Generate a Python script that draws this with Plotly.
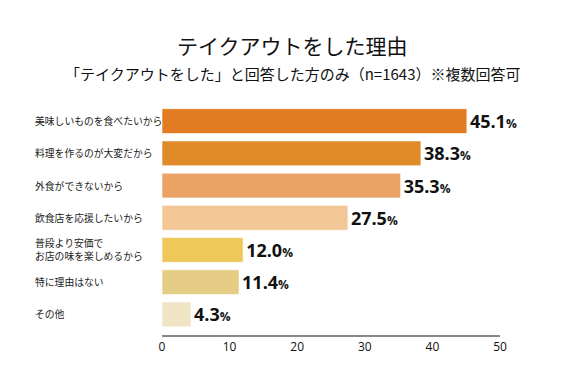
import plotly.graph_objects as go

categories = ["美味しいものを食べたいから", "料理を作るのが大変だから", "外食ができないから",
              "飲食店を応援したいから", "普段より安価で<br>お店の味を楽しめるから",
              "特に理由はない", "その他"]
values = [45.1, 38.3, 35.3, 27.5, 12.0, 11.4, 4.3]
colors = ["#E37B22", "#E08A2A", "#EBA265", "#F2C795", "#EFC85A", "#E5CD85", "#F0E4C5"]
x_ticks = [0, 10, 20, 30, 40, 50]

JP = "Noto Sans CJK JP"
ypos = list(range(len(categories)))

fig = go.Figure(go.Bar(
    x=values, y=ypos, orientation="h",
    marker=dict(color=colors, line=dict(color="rgba(255,255,255,0.6)", width=1)),
    width=0.77,
    text=[f"<b>{v:.1f}</b><span style='font-size:12px'><b>%</b></span>" for v in values],
    textposition="outside",
    textfont=dict(family="Open Sans", size=18, color="#111"),
    cliponaxis=False,
    hoverinfo="skip",
))

for i, c in enumerate(categories):
    fig.add_annotation(x=-0.382, xref="paper", y=i, yref="y", text=c, showarrow=False,
                       xanchor="left", yanchor="middle", align="left",
                       font=dict(family=JP, size=9.8, color="#222"))

fig.add_annotation(x=0.385, xref="paper", y=1.261, yref="paper",
                   text="テイクアウトをした理由", showarrow=False,
                   xanchor="center", yanchor="middle",
                   font=dict(family=JP, size=21, color="#111"))
fig.add_annotation(x=0.385, xref="paper", y=1.135, yref="paper",
                   text="「テイクアウトをした」と回答した方のみ（n=1643）※複数回答可", showarrow=False,
                   xanchor="center", yanchor="middle",
                   font=dict(family=JP, size=15, color="#111"))

fig.update_layout(
    width=585, height=387,
    margin=dict(l=154, r=93, t=97, b=60),
    paper_bgcolor="white", plot_bgcolor="white",
    showlegend=False,
    xaxis=dict(range=[0, 50], tickvals=x_ticks, showgrid=False, zeroline=False,
               showline=True, linecolor="#888", linewidth=2, ticks="",
               tickfont=dict(family="Open Sans", size=12, color="#111")),
    yaxis=dict(range=[6.64, -0.5], showticklabels=False, showgrid=False,
               zeroline=False, showline=False),
)
fig.write_html("out.html")
